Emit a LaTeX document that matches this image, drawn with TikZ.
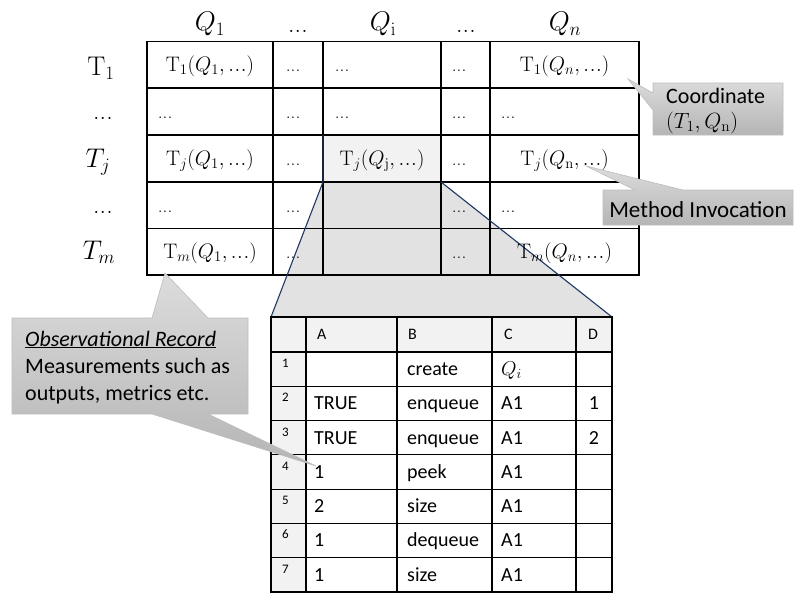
\RequirePackage{fix-cm}
\documentclass[tikz,border=0pt]{standalone}
\usepackage[no-math]{fontspec}
\setmainfont{Carlito}
\definecolor{navy}{HTML}{1F3864}
\definecolor{hdrfill}{HTML}{F2F2F2}
\definecolor{trapfill}{HTML}{E2E2E2}
\definecolor{cotop}{HTML}{DCDCDC}
\definecolor{cobot}{HTML}{B5B5B5}
\definecolor{coedge}{HTML}{BDBDBD}
\newcommand{\eldots}{\mathinner{\ldotp\mkern-2.5mu\ldotp\mkern-2.5mu\ldotp}}
\begin{document}
\begin{tikzpicture}[x=1pt,y=-1pt,
  gridline/.style={line width=1.2pt,black,line cap=rect},
  mcell/.style={font=\fontsize{21}{24}\selectfont,inner sep=0pt,anchor=base},
  mdots/.style={font=\fontsize{16}{18}\selectfont,inner sep=0pt,anchor=base west},
  lab/.style={font=\fontsize{27}{30}\selectfont,inner sep=0pt,anchor=base},
  labdots/.style={font=\fontsize{22}{24}\selectfont,inner sep=0pt,anchor=base},
  hdrtxt/.style={font=\fontsize{16}{18}\selectfont,inner sep=0pt,anchor=base west},
  numtxt/.style={font=\fontsize{13}{15}\selectfont,inner sep=0pt,anchor=base west},
  rtxt/.style={font=\fontsize{20}{23}\selectfont,inner sep=0pt,anchor=base west},
  calloutshape/.style={top color=cotop,bottom color=cobot,draw=coedge,line width=0.6pt},
  cotxt/.style={font=\fontsize{22}{27}\selectfont,inner sep=0pt}]

\fill[white] (0,0) rectangle (795,594);
\useasboundingbox (0,0) rectangle (795,594);

% highlighted cell and lower table frame
\node[fill=hdrfill,minimum width=118pt,minimum height=47pt,inner sep=0pt,outer sep=0pt] (cij) at (382,158.5) {};
\node[minimum width=341pt,minimum height=275pt,inner sep=0pt,outer sep=0pt] (rtab) at (441.5,454.5) {};

% zoom trapezoid
\fill[trapfill] (cij.south west) -- (cij.south east) -- (rtab.north east) -- (rtab.north west) -- cycle;

% top table grid
\foreach \x in {147,273,323,441,490,639} \draw[gridline] (\x,41.5) -- (\x,275);
\foreach \y in {41.5,88,135,182,228.5,275} \draw[gridline] (147,\y) -- (639,\y);

% trapezoid edges
\draw[navy,line width=1.1pt] (cij.north west) -- (cij.south west) -- (rtab.north west);
\draw[navy,line width=1.1pt] (cij.south east) -- (rtab.north east);

% headings
\node[lab] (h1) at (210,31) {$Q_1$};
\node[labdots] (h2) at (298,33) {$\eldots$};
\node[lab] (h3) at (383,31) {$Q_{\mathrm{i}}$};
\node[labdots] (h4) at (466,33) {$\eldots$};
\node[lab] (h5) at (565,31) {$Q_n$};

% row labels
\node[lab] (r1) at (101,75) {$\mathrm{T}_1$};
\node[labdots] (r2) at (103,119) {$\eldots$};
\node[lab] (r3) at (98,167) {$T_j$};
\node[labdots] (r4) at (103,213) {$\eldots$};
\node[lab] (r5) at (99,259) {$T_m$};

% cells row 1
\node[mcell] (c11) at (210,71.75) {$\mathrm{T}_1(Q_1,\eldots)$};
\node[mdots] (c12) at (286,71.75) {$\eldots$};
\node[mdots] (c13) at (335,71.75) {$\eldots$};
\node[mdots] (c14) at (452,71.75) {$\eldots$};
\node[mcell] (c15) at (564.5,71.75) {$\mathrm{T}_1(Q_n,\eldots)$};
% row 2
\node[mdots] (c21) at (158,118.5) {$\eldots$};
\node[mdots] (c22) at (286,118.5) {$\eldots$};
\node[mdots] (c23) at (335,118.5) {$\eldots$};
\node[mdots] (c24) at (452,118.5) {$\eldots$};
\node[mdots] (c25) at (501,118.5) {$\eldots$};
% row 3
\node[mcell] (c31) at (210,165.5) {$\mathrm{T}_j(Q_1,\eldots)$};
\node[mdots] (c32) at (286,165.5) {$\eldots$};
\node[mcell] (c33) at (382,165.5) {$\mathrm{T}_j(Q_{\mathrm{j}},\eldots)$};
\node[mdots] (c34) at (452,165.5) {$\eldots$};
\node[mcell] (c35) at (564.5,165.5) {$\mathrm{T}_j(Q_{\mathrm{n}},\eldots)$};
% row 4
\node[mdots] (c41) at (158,212.25) {$\eldots$};
\node[mdots] (c42) at (286,212.25) {$\eldots$};
\node[mdots] (c44) at (452,212.25) {$\eldots$};
\node[mdots] (c45) at (501,212.25) {$\eldots$};
% row 5
\node[mcell] (c51) at (210,258.75) {$\mathrm{T}_m(Q_1,\eldots)$};
\node[mdots] (c52) at (286,258.75) {$\eldots$};
\node[mdots] (c54) at (452,258.75) {$\eldots$};
\node[mcell] (c55) at (564.5,258.75) {$\mathrm{T}_m(Q_n,\eldots)$};

% lower table
\fill[hdrfill] (271,317) rectangle (612,352);
\fill[hdrfill] (271,352) rectangle (306,592);
\foreach \x in {271,306,397,492,576,612} \draw[gridline] (\x,317) -- (\x,592);
\foreach \y in {317,352,386.29,420.57,454.86,489.14,523.43,557.71,592} \draw[gridline] (271,\y) -- (612,\y);

\node[hdrtxt] (hA) at (317,339) {A};
\node[hdrtxt] (hB) at (408,339) {B};
\node[hdrtxt] (hC) at (504,339) {C};
\node[hdrtxt,anchor=base] (hD) at (593,339) {D};

\foreach \i/\top/\a/\b/\c/\d in {
  1/352/{}/create/{$Q_i$}/{},
  2/386.29/TRUE/enqueue/A1/1,
  3/420.57/TRUE/enqueue/A1/2,
  4/454.86/1/peek/A1/{},
  5/489.14/2/size/A1/{},
  6/523.43/1/dequeue/A1/{},
  7/557.71/1/size/A1/{}}{
  \node[numtxt] (n\i) at (282,\top+15.5) {\i};
  \node[rtxt] (a\i) at (314,\top+23.5) {\a};
  \node[rtxt] (b\i) at (407,\top+23.5) {\b};
  \node[rtxt] (cc\i) at (501,\top+23.5) {\c};
  \node[rtxt,anchor=base] (d\i) at (594,\top+23.5) {\d};
}

% callout: coordinate
\path[calloutshape] (653,83) -- (783,83) -- (783,135) -- (653,135) -- (653,110) -- (628,79) -- (653,93) -- cycle;
\node[cotxt,anchor=base west] (co1) at (666,103) {Coordinate};
\node[cotxt,anchor=base west] (co2) at (666,128) {$(T_1,Q_{\mathrm{n}})$};

% callout: method invocation
\path[calloutshape] (603,190) -- (635,190) -- (586,166) -- (683,190) -- (793,190) -- (793,225) -- (603,225) -- cycle;
\node[cotxt,anchor=base,font=\fontsize{23}{27}\selectfont] (mi) at (698,217) {Method Invocation};

% callout: observational record
\path[calloutshape] (12,318) -- (152,318) -- (165,273) -- (208,318) -- (248,318) -- (248,414) -- (208,414) -- (316,466) -- (152,414) -- (12,414) -- cycle;
\node[cotxt,anchor=base west] (ob1) at (25,346) {\underline{\textit{Observational Record}}};
\node[cotxt,anchor=base west] (ob2) at (25,373) {Measurements such as};
\node[cotxt,anchor=base west] (ob3) at (25,400) {outputs, metrics etc.};
\end{tikzpicture}
\end{document}
